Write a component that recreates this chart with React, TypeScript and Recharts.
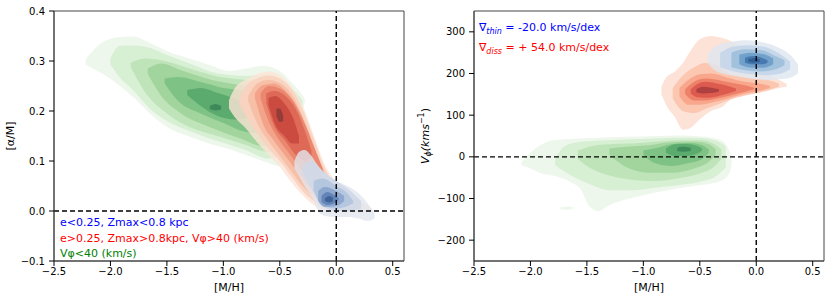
import React from "react";
import { ComposedChart, Area, XAxis, YAxis, ReferenceLine, ReferenceArea } from "recharts";

type Band = [number, number, number][];

const FONT = "DejaVu Sans, Verdana, sans-serif";

const metallicityTicks = [-2.5, -2, -1.5, -1, -0.5, 0, 0.5];
const alphaTicks = [-0.1, 0, 0.1, 0.2, 0.3, 0.4];
const vphiTicks = [-200, -100, 0, 100, 200, 300];

// contour levels, outer -> inner: [M/H], low, high
const alphaGreen: Band[] = [
  [[-2.22, 0.293, 0.303], [-2.15, 0.284, 0.322], [-2.05, 0.272, 0.34], [-1.95, 0.256, 0.347], [-1.8, 0.228, 0.349], [-1.65, 0.195, 0.336], [-1.5, 0.168, 0.32], [-1.3, 0.149, 0.305], [-1.1, 0.133, 0.29], [-0.95, 0.124, 0.28], [-0.8, 0.112, 0.285], [-0.65, 0.1, 0.29], [-0.5, 0.09, 0.28], [-0.4, 0.13, 0.258], [-0.32, 0.19, 0.238], [-0.28, 0.215, 0.225]],
  [[-2.0, 0.293, 0.305], [-1.92, 0.268, 0.33], [-1.8, 0.242, 0.331], [-1.65, 0.205, 0.326], [-1.5, 0.18, 0.312], [-1.3, 0.16, 0.295], [-1.05, 0.14, 0.275], [-0.8, 0.122, 0.27], [-0.6, 0.105, 0.272], [-0.45, 0.12, 0.255], [-0.35, 0.18, 0.235], [-0.3, 0.205, 0.22]],
  [[-1.82, 0.288, 0.296], [-1.7, 0.24, 0.305], [-1.5, 0.195, 0.299], [-1.3, 0.168, 0.285], [-1.05, 0.15, 0.269], [-0.8, 0.132, 0.262], [-0.6, 0.118, 0.255], [-0.45, 0.14, 0.24], [-0.38, 0.18, 0.22]],
  [[-1.67, 0.275, 0.285], [-1.55, 0.23, 0.295], [-1.38, 0.196, 0.282], [-1.1, 0.166, 0.262], [-0.85, 0.145, 0.252], [-0.65, 0.13, 0.245], [-0.5, 0.15, 0.23]],
  [[-1.52, 0.255, 0.265], [-1.4, 0.22, 0.268], [-1.2, 0.195, 0.258], [-1.0, 0.176, 0.246], [-0.8, 0.158, 0.24], [-0.65, 0.155, 0.23]],
  [[-1.32, 0.232, 0.242], [-1.2, 0.21, 0.246], [-1.05, 0.19, 0.236], [-0.9, 0.183, 0.225], [-0.8, 0.185, 0.215]],
  [[-1.12, 0.204, 0.21], [-1.07, 0.201, 0.214], [-1.02, 0.203, 0.21]],
];

const alphaRed: Band[] = [
  [[-0.95, 0.205, 0.222], [-0.9, 0.188, 0.245], [-0.8, 0.165, 0.263], [-0.7, 0.137, 0.274], [-0.6, 0.112, 0.279], [-0.5, 0.088, 0.272], [-0.4, 0.058, 0.25], [-0.3, 0.032, 0.212], [-0.2, 0.012, 0.152], [-0.1, 0.002, 0.092], [0.0, 0.0, 0.058], [0.1, 0.0, 0.038], [0.2, 0.0, 0.022], [0.32, 0.0, 0.004]],
  [[-0.86, 0.215, 0.225], [-0.8, 0.19, 0.25], [-0.7, 0.155, 0.265], [-0.6, 0.125, 0.271], [-0.5, 0.1, 0.265], [-0.4, 0.07, 0.245], [-0.3, 0.04, 0.205], [-0.2, 0.02, 0.145], [-0.1, 0.005, 0.085], [0.0, 0.003, 0.05], [0.1, 0.005, 0.03], [0.25, 0.01, 0.012]],
  [[-0.78, 0.22, 0.23], [-0.7, 0.175, 0.255], [-0.6, 0.14, 0.262], [-0.5, 0.11, 0.256], [-0.4, 0.08, 0.235], [-0.3, 0.05, 0.19], [-0.2, 0.03, 0.13], [-0.1, 0.015, 0.07], [0.0, 0.012, 0.04], [0.12, 0.02, 0.025]],
  [[-0.72, 0.225, 0.235], [-0.65, 0.175, 0.252], [-0.55, 0.14, 0.255], [-0.45, 0.11, 0.24], [-0.35, 0.08, 0.21], [-0.25, 0.05, 0.16], [-0.15, 0.03, 0.1], [-0.05, 0.025, 0.055], [0.0, 0.03, 0.04]],
  [[-0.67, 0.225, 0.235], [-0.6, 0.18, 0.25], [-0.5, 0.14, 0.245], [-0.4, 0.11, 0.225], [-0.3, 0.08, 0.185], [-0.2, 0.06, 0.13], [-0.12, 0.06, 0.085]],
  [[-0.62, 0.215, 0.235], [-0.55, 0.17, 0.24], [-0.45, 0.14, 0.23], [-0.35, 0.11, 0.2], [-0.27, 0.1, 0.155], [-0.22, 0.11, 0.12]],
  [[-0.6, 0.212, 0.226], [-0.54, 0.172, 0.23], [-0.46, 0.15, 0.215], [-0.39, 0.135, 0.19], [-0.33, 0.135, 0.15]],
  [[-0.53, 0.19, 0.205], [-0.5, 0.178, 0.205], [-0.47, 0.18, 0.19]],
];

const alphaBlue: Band[] = [
  [[-0.37, 0.085, 0.1], [-0.33, 0.07, 0.118], [-0.28, 0.05, 0.122], [-0.22, 0.03, 0.11], [-0.16, 0.0, 0.09], [-0.1, -0.01, 0.075], [0.0, -0.012, 0.06], [0.1, -0.012, 0.05], [0.2, -0.015, 0.035], [0.28, -0.02, 0.015], [0.34, -0.015, -0.005]],
  [[-0.3, 0.075, 0.09], [-0.22, 0.045, 0.1], [-0.12, 0.01, 0.08], [0.0, 0.0, 0.06], [0.1, 0.0, 0.045], [0.22, 0.005, 0.02]],
  [[-0.2, 0.04, 0.06], [-0.12, 0.01, 0.065], [0.0, 0.005, 0.05], [0.1, 0.01, 0.035], [0.15, 0.015, 0.02]],
  [[-0.16, 0.02, 0.04], [-0.1, 0.008, 0.048], [0.0, 0.01, 0.04], [0.07, 0.02, 0.03]],
  [[-0.13, 0.018, 0.03], [-0.08, 0.012, 0.038], [-0.02, 0.015, 0.032], [0.02, 0.022, 0.026]],
  [[-0.1, 0.02, 0.025], [-0.06, 0.017, 0.03], [-0.03, 0.02, 0.026]],
];

const vphiGreen: Band[] = [
  [[-2.08, -20, -12], [-2.0, -28, 10], [-1.9, -40, 30], [-1.8, -45, 40], [-1.65, -60, 43], [-1.55, -80, 44], [-1.48, -118, 45], [-1.4, -130, 46], [-1.3, -116, 47], [-1.15, -102, 48], [-1.0, -92, 49], [-0.85, -84, 50], [-0.7, -76, 51], [-0.55, -70, 50], [-0.4, -64, 46], [-0.3, -56, 38], [-0.24, -40, 15], [-0.22, -20, 0]],
  [[-1.78, -20, -5], [-1.7, -35, 25], [-1.6, -50, 34], [-1.45, -68, 38], [-1.3, -80, 40], [-1.1, -80, 42], [-0.9, -74, 44], [-0.7, -68, 46], [-0.5, -60, 45], [-0.35, -45, 38], [-0.27, -25, 25]],
  [[-1.58, -5, 15], [-1.45, -30, 26], [-1.3, -45, 30], [-1.1, -55, 32], [-0.9, -58, 36], [-0.7, -52, 40], [-0.5, -40, 40], [-0.38, -25, 32], [-0.31, -5, 18]],
  [[-1.3, 5, 20], [-1.15, -25, 24], [-0.95, -38, 28], [-0.75, -38, 35], [-0.55, -28, 36], [-0.42, -12, 30], [-0.36, 5, 18]],
  [[-1.0, 5, 15], [-0.9, -15, 20], [-0.75, -22, 30], [-0.6, -15, 33], [-0.48, -5, 28], [-0.42, 10, 18]],
  [[-0.8, 10, 20], [-0.72, 2, 30], [-0.62, 2, 31], [-0.52, 8, 26], [-0.48, 15, 20]],
  [[-0.7, 14, 22], [-0.65, 12, 25], [-0.58, 14, 22]],
];

const vphiGreenIsland: Band = [[-1.74, -124, -122], [-1.68, -127, -119], [-1.62, -124, -121]];

const vphiRed: Band[] = [
  [[-0.84, 150, 168], [-0.8, 125, 190], [-0.72, 95, 205], [-0.65, 65, 225], [-0.58, 70, 255], [-0.5, 90, 282], [-0.4, 110, 290], [-0.3, 120, 285], [-0.2, 143, 275], [-0.1, 148, 260], [0.0, 152, 230], [0.1, 158, 200], [0.2, 165, 185], [0.27, 168, 175]],
  [[-0.74, 140, 165], [-0.65, 110, 195], [-0.55, 105, 215], [-0.45, 115, 225], [-0.35, 125, 220], [-0.2, 140, 195], [-0.05, 150, 190], [0.1, 160, 185], [0.2, 168, 176]],
  [[-0.68, 145, 165], [-0.6, 125, 185], [-0.5, 125, 198], [-0.4, 130, 200], [-0.25, 140, 190], [-0.1, 152, 180], [0.05, 160, 175], [0.12, 165, 170]],
  [[-0.63, 150, 162], [-0.55, 135, 180], [-0.45, 135, 188], [-0.35, 140, 185], [-0.22, 148, 178], [-0.1, 156, 172], [-0.02, 162, 166]],
  [[-0.58, 152, 162], [-0.52, 143, 175], [-0.45, 142, 180], [-0.35, 145, 176], [-0.25, 152, 170], [-0.18, 158, 164]],
  [[-0.53, 155, 162], [-0.47, 152, 168], [-0.4, 153, 166], [-0.33, 157, 162]],
];

const vphiBlue: Band[] = [
  [[-0.43, 225, 245], [-0.38, 210, 262], [-0.3, 200, 272], [-0.2, 195, 277], [-0.1, 190, 280], [0.0, 186, 278], [0.1, 184, 272], [0.2, 186, 262], [0.3, 190, 245], [0.37, 200, 222]],
  [[-0.32, 215, 250], [-0.2, 205, 265], [-0.05, 198, 268], [0.1, 196, 262], [0.22, 200, 245], [0.3, 210, 228]],
  [[-0.22, 215, 250], [-0.1, 208, 258], [0.05, 205, 256], [0.17, 210, 242], [0.25, 220, 232]],
  [[-0.15, 222, 245], [-0.05, 214, 250], [0.07, 214, 246], [0.15, 222, 236]],
  [[-0.1, 226, 238], [-0.03, 222, 242], [0.05, 222, 238], [0.1, 226, 232]],
  [[-0.07, 228, 234], [-0.02, 226, 237], [0.03, 228, 234]],
];

const greens = ["#e9f5e6", "#d4edcf", "#bce2b6", "#9dd39a", "#7bc083", "#58a96d", "#3b8656"];
const alphaReds = ["#fce4d6", "#fad2bf", "#f7bca4", "#f2a087", "#ea836b", "#dc6653", "#c9483f", "#8d3b3a"];
const alphaBlues = ["#e2e6ef", "#cfd8e8", "#b1c3de", "#88a4cc", "#5d80b5", "#3e5e95"];
const vphiReds = ["#fddccd", "#fcc3ad", "#f7a389", "#ec7d65", "#d9574b", "#a93e3e"];
const vphiBlues = ["#dfe6f0", "#c4d6ea", "#9dbfdc", "#6c9cc8", "#4376ad", "#2e5b8e"];

const toRows = (band: Band) => band.map(([x, lo, hi]) => ({ x, r: [lo, hi] }));

function contours(levels: Band[], colors: string[], id: string) {
  return levels.map((band, i) => (
    <Area
      key={`${id}-${i}`}
      data={toRows(band)}
      dataKey="r"
      type="monotone"
      stroke="none"
      fill={colors[i]}
      fillOpacity={i === 0 ? 0.8 : 0.9}
      dot={false}
      activeDot={false}
      isAnimationActive={false}
    />
  ));
}

const minus = (s: string) => s.replace("-", "\u2212");
const fmt1 = (v: number) => minus(v.toFixed(1));
const fmt0 = (v: number) => minus(String(v));

const tickStyle = { fill: "#000", fontSize: 10, fontFamily: FONT };
const axisLine = { stroke: "#444", strokeWidth: 1 };

const xLabel = ({ viewBox }: any) => (
  <text x={viewBox.x + viewBox.width / 2} y={291} textAnchor="middle" fontSize={11} fontFamily={FONT} fill="#000">
    [M/H]
  </text>
);

const alphaLabel = ({ viewBox }: any) => {
  const cy = viewBox.y + viewBox.height / 2;
  return (
    <text x={10} y={cy} transform={`rotate(-90 10 ${cy})`} textAnchor="middle" dominantBaseline="central" fontSize={11} fontFamily={FONT} fill="#000">
      [α/M]
    </text>
  );
};

const vphiLabel = ({ viewBox }: any) => {
  const cy = viewBox.y + viewBox.height / 2;
  return (
    <text x={10} y={cy} transform={`rotate(-90 10 ${cy})`} textAnchor="middle" dominantBaseline="central" fontSize={11} fontFamily={FONT} fill="#000">
      <tspan fontStyle="italic">V</tspan>
      <tspan fontStyle="italic" fontSize={8} dy={3}>ϕ</tspan>
      <tspan fontStyle="italic" dy={-3}>(kms</tspan>
      <tspan fontSize={8} dy={-4}>−1</tspan>
      <tspan dy={4}>)</tspan>
    </text>
  );
};

export default function App() {
  return (
    <div style={{ position: "absolute", left: 0, top: 0, width: 831, height: 299, background: "#fff", display: "flex" }}>
      <div style={{ position: "relative", width: 415, height: 299 }}>
        <ComposedChart width={415} height={299} margin={{ top: 11, right: 11, bottom: 0, left: 0 }}>
          <XAxis
            dataKey="x"
            type="number"
            domain={[-2.5, 0.6]}
            ticks={metallicityTicks}
            tickFormatter={fmt1}
            allowDataOverflow
            height={38}
            tick={tickStyle}
            tickSize={5}
            tickMargin={2}
            tickLine={{ stroke: "#000" }}
            axisLine={axisLine}
            label={xLabel}
          />
          <YAxis
            type="number"
            domain={[-0.1, 0.4]}
            ticks={alphaTicks}
            tickFormatter={fmt1}
            allowDataOverflow
            width={54}
            tick={tickStyle}
            tickSize={5}
            tickMargin={4}
            tickLine={{ stroke: "#000" }}
            axisLine={axisLine}
            label={alphaLabel}
          />
          {contours(alphaGreen, greens, "ag")}
          {contours(alphaRed, alphaReds, "ar")}
          {contours(alphaBlue, alphaBlues, "ab")}
          <ReferenceLine y={0} stroke="#000" strokeWidth={1.4} strokeDasharray="5 3" />
          <ReferenceLine x={0} stroke="#000" strokeWidth={1.4} strokeDasharray="5 3" />
          <ReferenceArea x1={-2.5} x2={0.6} y1={-0.1} y2={0.4} fill="none" stroke="#444" strokeWidth={1} />
        </ComposedChart>
        <svg width={415} height={299} style={{ position: "absolute", left: 0, top: 0, pointerEvents: "none" }} fontFamily={FONT} fontSize={11}>
          <text x={60} y={226} fill="#0000ff">e&lt;0.25, Zmax&lt;0.8 kpc</text>
          <text x={60} y={241.5} fill="#ff0000">e&gt;0.25, Zmax&gt;0.8kpc, Vφ&gt;40 (km/s)</text>
          <text x={60} y={257} fill="#008000">Vφ&lt;40 (km/s)</text>
        </svg>
      </div>
      <div style={{ position: "relative", width: 416, height: 299 }}>
        <ComposedChart width={416} height={299} margin={{ top: 11, right: 7, bottom: 0, left: 0 }}>
          <XAxis
            dataKey="x"
            type="number"
            domain={[-2.5, 0.6]}
            ticks={metallicityTicks}
            tickFormatter={fmt1}
            allowDataOverflow
            height={38}
            tick={tickStyle}
            tickSize={5}
            tickMargin={2}
            tickLine={{ stroke: "#000" }}
            axisLine={axisLine}
            label={xLabel}
          />
          <YAxis
            type="number"
            domain={[-250, 350]}
            ticks={vphiTicks}
            tickFormatter={fmt0}
            allowDataOverflow
            width={59}
            tick={tickStyle}
            tickSize={5}
            tickMargin={4}
            tickLine={{ stroke: "#000" }}
            axisLine={axisLine}
            label={vphiLabel}
          />
          {contours(vphiGreen, greens, "vg")}
          {contours([vphiGreenIsland], greens, "vi")}
          {contours(vphiRed, vphiReds, "vr")}
          {contours(vphiBlue, vphiBlues, "vb")}
          <ReferenceLine y={0} stroke="#000" strokeWidth={1.4} strokeDasharray="5 3" />
          <ReferenceLine x={0} stroke="#000" strokeWidth={1.4} strokeDasharray="5 3" />
          <ReferenceArea x1={-2.5} x2={0.6} y1={-250} y2={350} fill="none" stroke="#444" strokeWidth={1} />
        </ComposedChart>
        <svg width={416} height={299} style={{ position: "absolute", left: 0, top: 0, pointerEvents: "none" }} fontFamily={FONT} fontSize={11}>
          <text x={64} y={31} fill="#0000ff">
            ∇<tspan fontStyle="italic" fontSize={8} dy={3}>thin</tspan>
            <tspan dy={-3}> = -20.0 km/s/dex</tspan>
          </text>
          <text x={64} y={51} fill="#ff0000">
            ∇<tspan fontStyle="italic" fontSize={8} dy={3}>diss</tspan>
            <tspan dy={-3}> = + 54.0 km/s/dex</tspan>
          </text>
        </svg>
      </div>
    </div>
  );
}
